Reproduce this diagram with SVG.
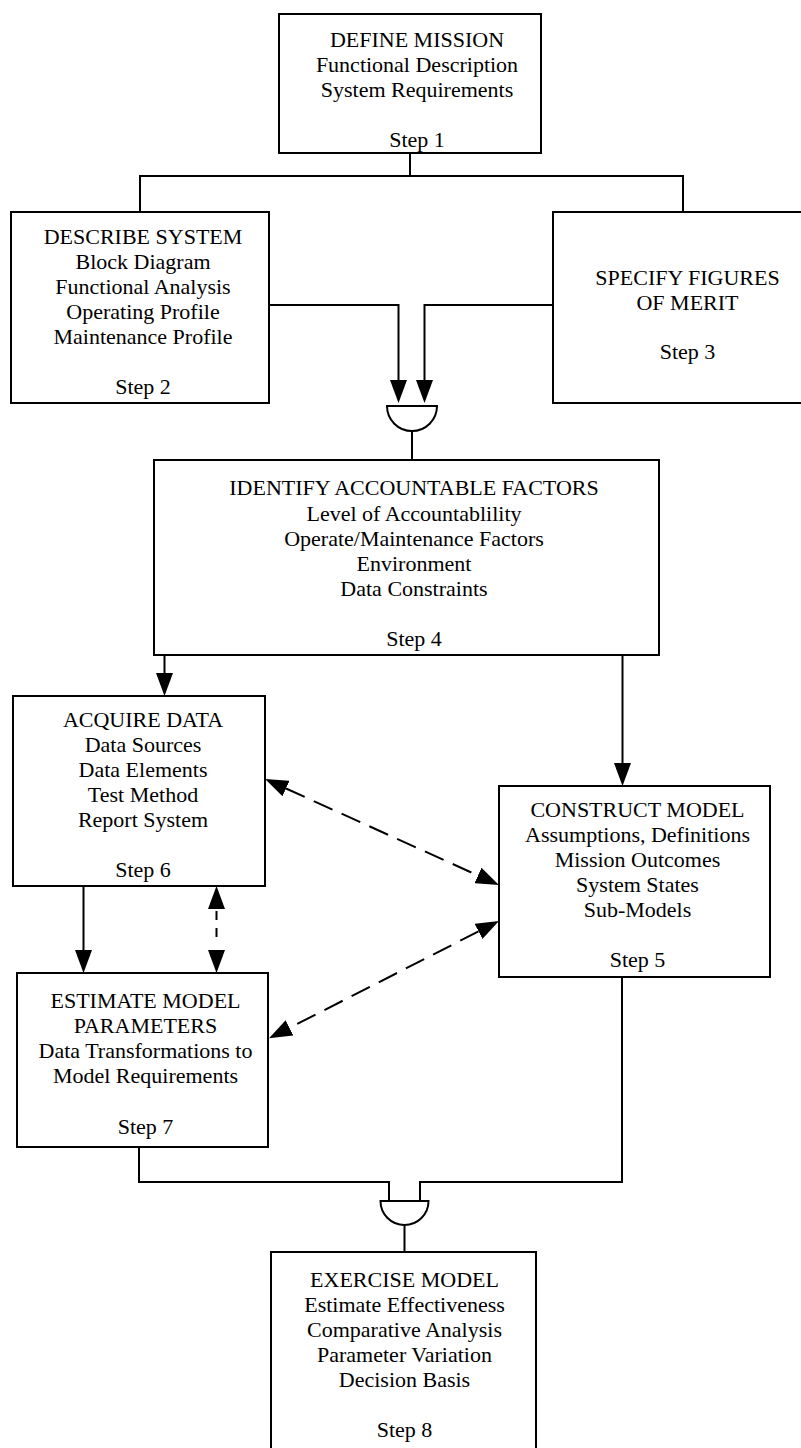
<svg xmlns="http://www.w3.org/2000/svg" width="801" height="1448" viewBox="0 0 801 1448">
<style>
.box{fill:#fff;stroke:#000;stroke-width:2}
.t{font-family:"Liberation Serif","Times New Roman",serif;font-size:22px;fill:#000;text-anchor:middle}
.c{fill:none;stroke:#000;stroke-width:2}
.d{fill:none;stroke:#000;stroke-width:2;stroke-dasharray:20.5 10}
.g{fill:#fff;stroke:#000;stroke-width:2}
</style>
<defs>
<marker id="ah" viewBox="0 0 23 17" refX="0" refY="8.5" markerWidth="23" markerHeight="17" markerUnits="userSpaceOnUse" orient="auto-start-reverse">
<path d="M0,0 L23,8.5 L0,17 z" fill="#000"/>
</marker>
</defs>
<rect x="0" y="0" width="801" height="1448" fill="#fff"/>

<g id="connectors">
<path class="c" d="M410,153 V176 M140,212 V176 H683 V212"/>
<path class="c" d="M269,305 H398.5 V380" marker-end="url(#ah)"/>
<path class="c" d="M553,305 H424.5 V380" marker-end="url(#ah)"/>
<path class="g" d="M387,406 H437 A25,25 0 0 1 387,406 Z"/>
<path class="c" d="M412,431 V460"/>
<path class="c" d="M164.5,655 V673" marker-end="url(#ah)"/>
<path class="c" d="M622.5,655 V763" marker-end="url(#ah)"/>
<path class="c" d="M83.5,886 V950" marker-end="url(#ah)"/>
<path class="c" d="M216.5,909 V950" style="stroke-dasharray:0 2 9 8 9 13" marker-start="url(#ah)" marker-end="url(#ah)"/>
<path class="d" d="M286,788.5 L478,875.5" marker-start="url(#ah)" marker-end="url(#ah)"/>
<path class="d" d="M478.5,931.4 L289.5,1027.9" marker-start="url(#ah)" marker-end="url(#ah)"/>
<path class="c" d="M139,1147 V1182 H389 V1201 M622,977 V1182 H420 V1201"/>
<path class="g" d="M380.5,1201 H428.5 A24,24 0 0 1 380.5,1201 Z"/>
<path class="c" d="M404.5,1225 V1252"/>
</g>

<g id="step1">
<rect class="box" x="279" y="14" width="262" height="139"/>
<text class="t" x="417" y="47">DEFINE MISSION</text>
<text class="t" x="417" y="72">Functional Description</text>
<text class="t" x="417" y="97">System Requirements</text>
<text class="t" x="417" y="147">Step 1</text>
</g>

<g id="step2">
<rect class="box" x="11" y="212" width="258" height="191"/>
<text class="t" x="143" y="244">DESCRIBE SYSTEM</text>
<text class="t" x="143" y="269">Block Diagram</text>
<text class="t" x="143" y="294">Functional Analysis</text>
<text class="t" x="143" y="319">Operating Profile</text>
<text class="t" x="143" y="344">Maintenance Profile</text>
<text class="t" x="143" y="394">Step 2</text>
</g>

<g id="step3">
<rect class="box" x="553" y="212" width="270" height="191"/>
<text class="t" x="687.5" y="285">SPECIFY FIGURES</text>
<text class="t" x="687.5" y="310">OF MERIT</text>
<text class="t" x="687.5" y="359">Step 3</text>
</g>

<g id="step4">
<rect class="box" x="154" y="460" width="505" height="195"/>
<text class="t" x="414" y="495">IDENTIFY ACCOUNTABLE FACTORS</text>
<text class="t" x="414" y="521">Level of Accountablility</text>
<text class="t" x="414" y="546">Operate/Maintenance Factors</text>
<text class="t" x="414" y="571">Environment</text>
<text class="t" x="414" y="596">Data Constraints</text>
<text class="t" x="414" y="646">Step 4</text>
</g>

<g id="step6">
<rect class="box" x="13" y="696" width="252" height="190"/>
<text class="t" x="143" y="727">ACQUIRE DATA</text>
<text class="t" x="143" y="752">Data Sources</text>
<text class="t" x="143" y="777">Data Elements</text>
<text class="t" x="143" y="802">Test Method</text>
<text class="t" x="143" y="827">Report System</text>
<text class="t" x="143" y="877">Step 6</text>
</g>

<g id="step5">
<rect class="box" x="499" y="786" width="271" height="191"/>
<text class="t" x="637.5" y="817">CONSTRUCT MODEL</text>
<text class="t" x="637.5" y="842">Assumptions, Definitions</text>
<text class="t" x="637.5" y="867">Mission Outcomes</text>
<text class="t" x="637.5" y="892">System States</text>
<text class="t" x="637.5" y="917">Sub-Models</text>
<text class="t" x="637.5" y="967">Step 5</text>
</g>

<g id="step7">
<rect class="box" x="17" y="973" width="251" height="174"/>
<text class="t" x="145.5" y="1008">ESTIMATE MODEL</text>
<text class="t" x="145.5" y="1033">PARAMETERS</text>
<text class="t" x="145.5" y="1058">Data Transformations to</text>
<text class="t" x="145.5" y="1083">Model Requirements</text>
<text class="t" x="145.5" y="1134">Step 7</text>
</g>

<g id="step8">
<rect class="box" x="271" y="1252" width="265" height="220"/>
<text class="t" x="404.5" y="1287">EXERCISE MODEL</text>
<text class="t" x="404.5" y="1312">Estimate Effectiveness</text>
<text class="t" x="404.5" y="1337">Comparative Analysis</text>
<text class="t" x="404.5" y="1362">Parameter Variation</text>
<text class="t" x="404.5" y="1387">Decision Basis</text>
<text class="t" x="404.5" y="1437">Step 8</text>
</g>
</svg>
